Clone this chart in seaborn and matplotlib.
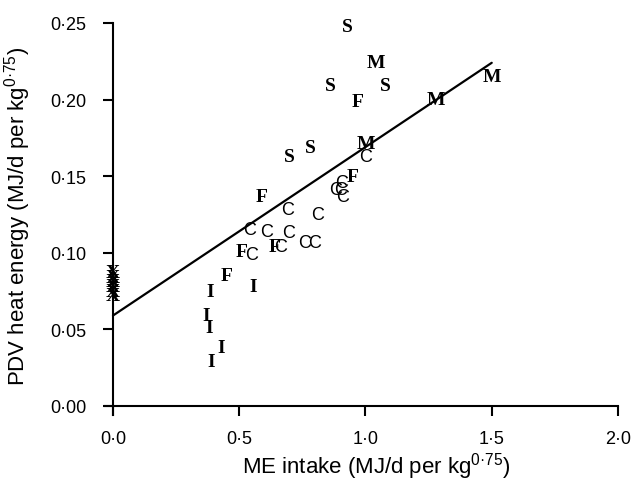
import pandas as pd
import matplotlib
matplotlib.use("Agg")
import matplotlib.pyplot as plt
import seaborn as sns

# Points: group letter, ME intake, PDV heat energy
groups = (["S"] * 5 + ["M"] * 4 + ["F"] * 6 + ["C"] * 14 + ["I"] * 6 + ["X"] * 6)
me_intake = [
    0.70, 0.78, 0.86, 0.93, 1.08,                      # S
    1.04, 1.00, 1.28, 1.50,                            # M
    0.97, 0.95, 0.59, 0.51, 0.64, 0.45,                # F
    1.00, 0.88, 0.905, 0.91, 0.81, 0.69, 0.54, 0.61,
    0.695, 0.76, 0.80, 0.55, 0.665, 0.90,              # C
    0.385, 0.555, 0.37, 0.38, 0.43, 0.39,              # I
    0.0, 0.0, 0.0, 0.0, 0.0, 0.0,                      # X
]
pdv_heat = [
    0.163, 0.169, 0.209, 0.248, 0.209,
    0.224, 0.171, 0.200, 0.215,
    0.199, 0.150, 0.137, 0.101, 0.104, 0.085,
    0.163, 0.141, 0.146, 0.137, 0.125, 0.128, 0.115, 0.114,
    0.113, 0.107, 0.107, 0.099, 0.104, 0.141,
    0.075, 0.078, 0.059, 0.051, 0.038, 0.029,
    0.087, 0.084, 0.081, 0.078, 0.075, 0.072,
]

# fitted line as drawn
line_x = [0.0, 1.5]
line_y = [0.059, 0.224]

x_ticks = [0.0, 0.5, 1.0, 1.5, 2.0]
x_tick_labels = ["0\u00b70", "0\u00b75", "1\u00b70", "1\u00b75", "2\u00b70"]
y_ticks = [0.00, 0.05, 0.10, 0.15, 0.20, 0.25]
y_tick_labels = ["0\u00b700", "0\u00b705", "0\u00b710", "0\u00b715", "0\u00b720", "0\u00b725"]

df = pd.DataFrame({"group": groups, "me": me_intake, "pdv": pdv_heat})

sns.set_style("ticks")
plt.rcParams["font.family"] = ["Liberation Sans", "DejaVu Sans"]
plt.rcParams["mathtext.fontset"] = "custom"
plt.rcParams["mathtext.rm"] = "Liberation Sans"

fig = plt.figure(figsize=(6.36, 4.89), dpi=100)
ax = fig.add_axes([0.1657, 0.149, 0.806, 0.802])

sns.lineplot(x=line_x, y=line_y, color="black", linewidth=1.6, ax=ax)

# letters as markers
for _, row in df.iterrows():
    if row["group"] == "C":
        ax.text(row["me"], row["pdv"], "C", family="Liberation Sans",
                fontsize=13, ha="center", va="center", color="black")
    else:
        ax.text(row["me"], row["pdv"], row["group"], family="Liberation Serif",
                fontweight="bold", fontsize=14, ha="center", va="center",
                color="black")

ax.set_xlim(-0.03, 2.0)
ax.set_ylim(-0.006, 0.25)
ax.spines["left"].set_position(("data", 0))
ax.spines["bottom"].set_position(("data", 0))
ax.spines["right"].set_visible(False)
ax.spines["top"].set_visible(False)
for s in ("left", "bottom"):
    ax.spines[s].set_linewidth(1.5)
    ax.spines[s].set_color("black")

ax.set_xticks(x_ticks)
ax.set_xticklabels(x_tick_labels)
ax.set_yticks(y_ticks)
ax.set_yticklabels(y_tick_labels)
ax.tick_params(axis="both", direction="out", length=7, width=1.5,
               labelsize=13, colors="black", labelcolor="black")
ax.tick_params(axis="x", pad=10)
ax.tick_params(axis="y", pad=12)

ax.set_xlabel("ME intake (MJ/d per kg$^{0\u00b775}$)", fontsize=16, color="black")
ax.set_ylabel("PDV heat energy (MJ/d per kg$^{0\u00b775}$)", fontsize=16, color="black")
ax.xaxis.set_label_coords(0.528, -0.09)
ax.yaxis.set_label_coords(-0.141, 0.51)

fig.savefig("out.png", dpi=100)
